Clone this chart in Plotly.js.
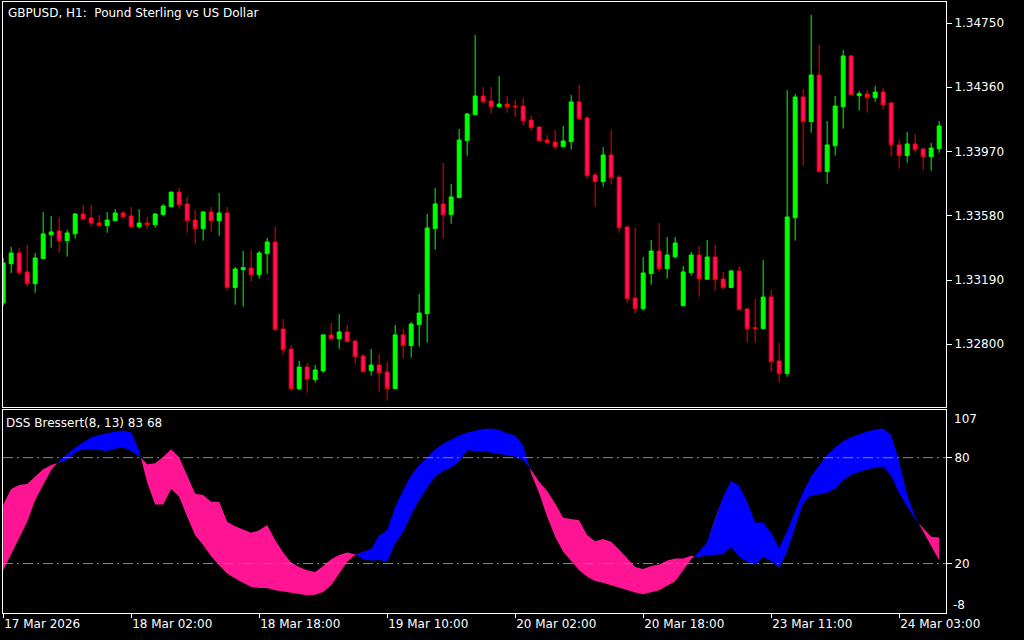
<!DOCTYPE html>
<html>
<head>
<meta charset="utf-8">
<script src="https://cdn.plot.ly/plotly-3.0.1.min.js"></script>
<style>
html,body{margin:0;padding:0;background:#000;}
#chart{width:1024px;height:640px;}
</style>
</head>
<body>
<div id="chart"></div>
<script>
// ---- Price data (GBPUSD H1), one value per bar ----
const barOpen = [
1.33051,1.33289,1.33354,1.33239,1.33168,1.33320,1.33465,1.33488,1.33429,1.33471,
1.33591,1.33567,1.33536,1.33520,1.33550,1.33597,1.33579,1.33514,1.33536,1.33526,
1.33587,1.33635,1.33724,1.33652,1.33554,1.33502,1.33603,1.33550,1.33597,1.33144,
1.33253,1.33263,1.33222,1.33350,1.33421,1.32893,1.32771,1.32531,1.32662,1.32586,
1.32638,1.32857,1.32834,1.32875,1.32820,1.32729,1.32640,1.32674,1.32632,1.32531,
1.32857,1.32792,1.32919,1.32986,1.33502,1.33652,1.33587,1.33690,1.34036,1.34194,
1.34307,1.34277,1.34242,1.34258,1.34246,1.34246,1.34161,1.34119,1.34040,1.34028,
1.33999,1.34030,1.34271,1.34174,1.33828,1.33787,1.33949,1.33815,1.33512,1.33081,
1.33016,1.33229,1.33366,1.33259,1.33332,1.33034,1.33235,1.33342,1.33195,1.33330,
1.33196,1.33144,1.33245,1.33014,1.32901,1.32895,1.33087,1.32699,1.32622,1.33568,
1.34301,1.34151,1.34434,1.33848,1.34005,1.34242,1.34550,1.34309,1.34319,1.34297,
1.34331,1.34265,1.34010,1.33945,1.34016,1.33985,1.33939,1.33987];
const barHigh = [
1.33324,1.33391,1.33385,1.33403,1.33354,1.33603,1.33579,1.33573,1.33494,1.33597,
1.33646,1.33646,1.33585,1.33603,1.33621,1.33609,1.33633,1.33621,1.33573,1.33597,
1.33652,1.33726,1.33749,1.33694,1.33615,1.33609,1.33633,1.33718,1.33633,1.33269,
1.33366,1.33372,1.33366,1.33445,1.33512,1.32954,1.32796,1.32699,1.32688,1.32674,
1.32859,1.32929,1.32984,1.32917,1.32822,1.32741,1.32771,1.32741,1.32693,1.32917,
1.32893,1.32935,1.33105,1.33591,1.33749,1.33900,1.33773,1.34107,1.34204,1.34677,
1.34362,1.34362,1.34428,1.34307,1.34283,1.34295,1.34186,1.34121,1.34070,1.34101,
1.34125,1.34313,1.34374,1.34186,1.33840,1.33997,1.34101,1.33828,1.33520,1.33506,
1.33330,1.33433,1.33536,1.33451,1.33451,1.33275,1.33360,1.33397,1.33433,1.33403,
1.33239,1.33251,1.33275,1.33020,1.33075,1.33312,1.33130,1.32808,1.34343,1.34319,
1.34350,1.34799,1.34617,1.34155,1.34307,1.34586,1.34556,1.34337,1.34343,1.34368,
1.34356,1.34271,1.34040,1.34089,1.34076,1.33997,1.34022,1.34155];
const barLow = [
1.33033,1.33233,1.33221,1.33150,1.33113,1.33318,1.33386,1.33356,1.33332,1.33441,
1.33554,1.33514,1.33514,1.33477,1.33548,1.33562,1.33508,1.33502,1.33502,1.33508,
1.33581,1.33633,1.33623,1.33477,1.33411,1.33429,1.33483,1.33459,1.33125,1.33040,
1.33028,1.33180,1.33198,1.33229,1.32887,1.32737,1.32518,1.32522,1.32506,1.32567,
1.32628,1.32822,1.32773,1.32814,1.32682,1.32628,1.32610,1.32512,1.32458,1.32529,
1.32713,1.32719,1.32786,1.32810,1.33374,1.33441,1.33532,1.33688,1.33945,1.34192,
1.34260,1.34200,1.34236,1.34206,1.34181,1.34127,1.34096,1.34034,1.34018,1.33987,
1.33997,1.33981,1.34167,1.33805,1.33635,1.33757,1.33769,1.33477,1.33053,1.32986,
1.33004,1.33162,1.33241,1.33198,1.33320,1.33032,1.33216,1.33089,1.33190,1.33125,
1.33131,1.33142,1.33008,1.32810,1.32810,1.32893,1.32634,1.32567,1.32603,1.33429,
1.33884,1.34084,1.33842,1.33775,1.33945,1.34109,1.34313,1.34218,1.34206,1.34272,
1.34224,1.33939,1.33866,1.33902,1.33963,1.33860,1.33854,1.33963];
const barClose = [
1.33294,1.33354,1.33235,1.33168,1.33324,1.33470,1.33482,1.33429,1.33476,1.33591,
1.33561,1.33536,1.33520,1.33554,1.33597,1.33574,1.33514,1.33536,1.33526,1.33591,
1.33639,1.33724,1.33647,1.33550,1.33502,1.33603,1.33550,1.33597,1.33144,1.33257,
1.33265,1.33222,1.33354,1.33421,1.32889,1.32767,1.32531,1.32662,1.32588,1.32644,
1.32857,1.32834,1.32875,1.32816,1.32725,1.32634,1.32674,1.32628,1.32531,1.32857,
1.32792,1.32923,1.32990,1.33506,1.33652,1.33587,1.33694,1.34040,1.34198,1.34307,
1.34272,1.34242,1.34258,1.34242,1.34242,1.34157,1.34115,1.34036,1.34024,1.33999,
1.34034,1.34271,1.34169,1.33823,1.33787,1.33949,1.33811,1.33508,1.33077,1.33016,
1.33233,1.33366,1.33259,1.33342,1.33415,1.33239,1.33342,1.33198,1.33330,1.33192,
1.33144,1.33245,1.33010,1.32895,1.32895,1.33087,1.32694,1.32622,1.33573,1.34301,
1.34151,1.34434,1.33848,1.34010,1.34246,1.34550,1.34315,1.34321,1.34297,1.34331,
1.34254,1.34011,1.33945,1.34016,1.33981,1.33939,1.33991,1.34125];

// ---- DSS Bressert(8,13): main (fast) line and signal line ----
const dssMain = [
16.2,25.2,34.2,43.7,56.0,64.5,73.0,78.2,81.9,85.7,
88.7,91.4,92.9,93.9,94.8,95.4,94.4,83.8,66.0,53.5,
53.5,62.3,57.9,46.5,36.1,30.5,24.2,19.1,14.4,11.5,
9.1,6.8,6.2,6.2,4.9,4.3,3.6,2.8,2.1,2.4,
3.9,7.7,14.4,21.0,25.0,26.7,28.2,36.1,38.9,52.2,
61.7,70.2,75.9,80.0,84.8,88.0,90.3,92.5,94.2,95.4,
96.3,96.5,95.8,93.9,92.5,86.9,71.1,59.8,46.5,35.2,
26.7,21.4,16.2,12.5,10.2,9.1,7.7,6.2,4.9,3.6,
2.6,3.6,4.9,7.4,10.0,16.2,22.5,26.7,32.3,45.6,
57.9,66.8,64.1,55.1,43.3,43.3,37.6,28.9,38.4,49.8,
60.7,69.6,75.9,81.6,85.7,89.5,91.6,93.3,94.8,95.8,
96.7,92.9,77.8,58.8,46.5,38.0,29.5,21.9];
const dssSignal = [
53.2,62.2,64.5,65.1,69.3,73.4,75.9,77.2,78.7,82.9,
84.6,84.8,84.2,83.8,85.1,85.7,83.8,81.2,76.3,76.8,
80.6,84.8,80.2,70.2,59.6,58.8,55.1,55.1,43.7,41.2,
39.5,37.4,38.9,41.8,33.3,26.3,20.6,18.1,16.2,15.3,
18.7,22.5,24.8,26.3,25.3,22.5,21.7,22.1,21.0,31.4,
38.0,47.5,56.0,63.0,69.2,72.5,74.4,77.8,84.2,84.0,
83.5,82.9,82.1,81.2,80.6,78.7,73.0,66.4,61.1,54.1,
46.0,45.2,44.6,36.1,32.7,33.9,32.3,28.0,22.9,18.1,
17.0,18.7,19.5,21.7,22.9,22.9,24.4,23.8,24.8,25.0,
25.3,29.5,23.8,21.0,19.5,23.8,21.4,17.6,26.7,40.9,
54.1,58.8,59.2,60.3,62.6,67.4,70.2,72.1,73.4,74.5,
74.8,69.8,59.8,52.2,45.2,39.9,35.2,34.8];
const dssLevels = [80, 20];

// ---- Axis labels ----
const priceTicks = [1.32800, 1.33190, 1.33580, 1.33970, 1.34360, 1.34750];
const timeTickBars = [0, 16, 32, 48, 64, 80, 96, 112];
const timeTickLabels = ['17 Mar 2026','18 Mar 02:00','18 Mar 18:00','19 Mar 10:00','20 Mar 02:00','20 Mar 18:00','23 Mar 11:00','24 Mar 03:00'];
const dssTicks = [80, 20];
const dssEdgeLabels = [107, -8];

const chartTitle = 'GBPUSD, H1:\u00a0 Pound Sterling vs US Dollar';
const indicatorTitle = 'DSS Bressert(8, 13) 83 68';

// ---- Build ----
const barIdx = barOpen.map((_, i) => i);

// split the band at the crossings so each colour fills only its own part
function splitBand(xs, f, s) {
  const X = [], F = [], S = [];
  for (let i = 0; i < xs.length; i++) {
    if (i > 0) {
      const d0 = f[i-1] - s[i-1], d1 = f[i] - s[i];
      if (d0 * d1 < 0) {
        const t = d0 / (d0 - d1);
        const xc = xs[i-1] + t * (xs[i] - xs[i-1]);
        const vc = f[i-1] + t * (f[i] - f[i-1]);
        X.push(xc); F.push(vc); S.push(vc);
      }
    }
    X.push(xs[i]); F.push(f[i]); S.push(s[i]);
  }
  return {X, F, S};
}
const band = splitBand(barIdx, dssMain, dssSignal);
const bandTop = band.F.map((v, k) => Math.max(v, band.S[k]));

const BLUE = '#0000FF', PINK = '#FF1493';

const traces = [
  {
    type: 'candlestick', x: barIdx, open: barOpen, high: barHigh, low: barLow, close: barClose,
    xaxis: 'x', yaxis: 'y',
    increasing: {line: {color: '#00FF00', width: 1}, fillcolor: '#00FF00'},
    decreasing: {line: {color: '#FF0000', width: 1}, fillcolor: '#FF1060'},
    whiskerwidth: 0, hoverinfo: 'skip'
  },
  {type: 'scatter', mode: 'lines', x: band.X, y: band.S, xaxis: 'x2', yaxis: 'y2',
   line: {width: 0, color: BLUE}, hoverinfo: 'skip'},
  {type: 'scatter', mode: 'lines', x: band.X, y: bandTop, xaxis: 'x2', yaxis: 'y2',
   fill: 'tonexty', fillcolor: BLUE, line: {width: 0, color: BLUE}, hoverinfo: 'skip'},
  {type: 'scatter', mode: 'lines', x: band.X, y: band.F, xaxis: 'x2', yaxis: 'y2',
   line: {width: 0, color: PINK}, hoverinfo: 'skip'},
  {type: 'scatter', mode: 'lines', x: band.X, y: bandTop, xaxis: 'x2', yaxis: 'y2',
   fill: 'tonexty', fillcolor: PINK, line: {width: 0, color: PINK}, hoverinfo: 'skip'}
];

const W = 1024, H = 640;
const M = {l: 3, r: 78, t: 2, b: 27};
// pixel -> paper (paper spans the plotting area, margins excluded)
const px2paperX = px => (px - M.l) / (W - M.l - M.r);
const px2paperY = py => (H - M.b - py) / (H - M.t - M.b);

const xRange = [-0.02, 117.855];
const FONT = {family: 'DejaVu Sans, Verdana, sans-serif', size: 12, color: '#FFFFFF'};

const axisCommon = {
  showgrid: false, zeroline: false, showline: true, mirror: true,
  linecolor: '#FFFFFF', linewidth: 1, tickcolor: '#FFFFFF', tickfont: FONT, fixedrange: true
};

const layout = {
  width: W, height: H,
  margin: {l: M.l, r: M.r, t: M.t, b: M.b, pad: 0},
  paper_bgcolor: '#000000', plot_bgcolor: '#000000',
  showlegend: false, font: FONT, hovermode: false,
  xaxis: Object.assign({}, axisCommon, {
    domain: [0, 1], anchor: 'y', range: xRange, showticklabels: false, ticks: '',
    rangeslider: {visible: false}
  }),
  yaxis: Object.assign({}, axisCommon, {
    domain: [0.3372, 1], anchor: 'x', side: 'right', range: [1.324195, 1.348775],
    tickvals: priceTicks, tickformat: '.5f', ticks: 'outside', ticklen: 5
  }),
  xaxis2: Object.assign({}, axisCommon, {
    domain: [0, 1], anchor: 'y2', range: xRange,
    tickvals: timeTickBars, ticktext: timeTickLabels, ticks: 'outside', ticklen: 4,
    ticklabelposition: 'outside right'
  }),
  yaxis2: Object.assign({}, axisCommon, {
    domain: [0, 0.3322], anchor: 'x2', side: 'right', range: [-8, 107],
    tickvals: dssTicks, ticks: 'outside', ticklen: 5
  }),
  shapes: dssLevels.map(v => ({
    type: 'line', xref: 'x2 domain', x0: 0, x1: 1, yref: 'y2', y0: v, y1: v,
    line: {color: '#8A8A8A', width: 1, dash: '10px,4px,2px,4px'}, layer: 'above'
  })),
  annotations: [
    {text: chartTitle, xref: 'paper', yref: 'paper', x: px2paperX(6), y: px2paperY(13),
     xanchor: 'left', yanchor: 'middle', showarrow: false, font: FONT},
    {text: indicatorTitle, xref: 'paper', yref: 'paper', x: px2paperX(4), y: px2paperY(423),
     xanchor: 'left', yanchor: 'middle', showarrow: false, font: FONT},
    {text: String(dssEdgeLabels[0]), xref: 'paper', yref: 'y2', x: px2paperX(952), y: dssEdgeLabels[0],
     yshift: -9, xanchor: 'left', yanchor: 'middle', showarrow: false, font: FONT},
    {text: String(dssEdgeLabels[1]), xref: 'paper', yref: 'y2', x: px2paperX(951), y: dssEdgeLabels[1],
     yshift: 8, xanchor: 'left', yanchor: 'middle', showarrow: false, font: FONT}
  ]
};

Plotly.newPlot('chart', traces, layout, {staticPlot: true, displayModeBar: false});
</script>
</body>
</html>
